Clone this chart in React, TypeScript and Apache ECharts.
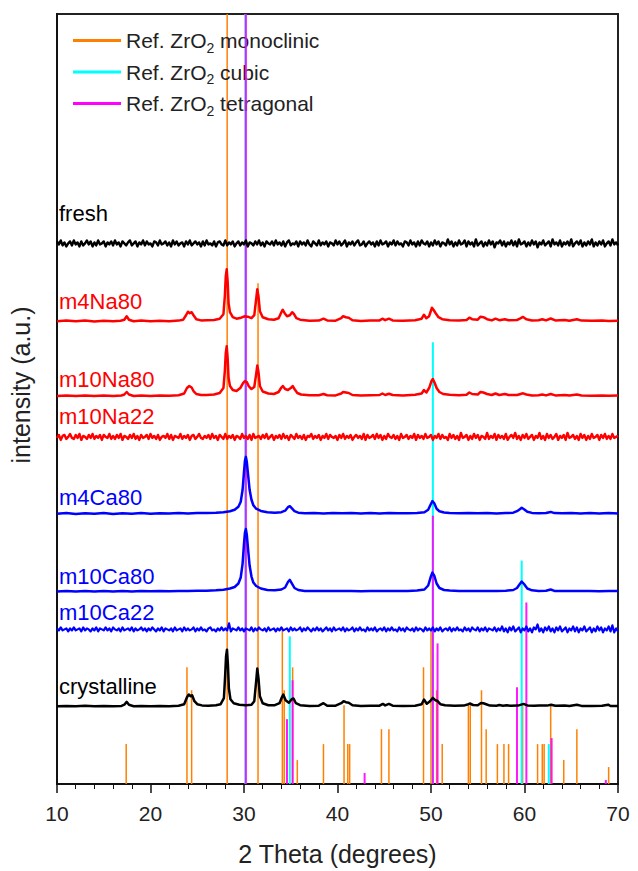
import React, { useEffect, useRef } from "react";
import * as echarts from "echarts";

// ---------- axis ----------
const X_MIN = 10;
const X_MAX = 70;
const X_STEP = 10;
const Y_TOP = 772; // intensity units of the stacked plot (a.u.)

// ---------- reference patterns: [2theta, relative height] ----------
const monoclinicRef: number[][] = [
  [17.4, 40], [23.9, 117], [24.4, 94], [28.2, 772], [31.5, 502], [34.1, 155], [34.3, 94],
  [35.2, 117], [35.7, 24], [38.5, 40], [40.7, 79], [41.1, 40], [41.3, 40], [44.7, 55],
  [45.5, 55], [49.2, 117], [50.0, 155], [50.6, 94], [51.2, 40], [54.0, 79], [54.2, 79],
  [55.4, 94], [55.9, 55], [57.1, 40], [57.8, 40], [58.3, 40], [59.8, 79], [61.4, 40],
  [61.9, 40], [62.1, 40], [62.8, 79], [64.2, 24], [65.6, 55], [69.0, 17],
];
const cubicRef: number[][] = [
  [30.15, 772], [34.9, 148], [50.2, 443], [59.7, 224], [62.6, 40],
];
const tetragonalRef: number[][] = [
  [30.2, 772], [34.6, 65], [35.2, 104], [42.9, 11], [50.2, 269], [50.7, 141],
  [59.2, 97], [60.2, 182], [62.9, 46], [68.7, 4],
];
const refNames = ["Ref. ZrO2 monoclinic", "Ref. ZrO2 cubic", "Ref. ZrO2 tetragonal"];

// ---------- measured patterns: [2theta, intensity above own baseline] ----------
const m4Na80: number[][] = [
  [10, 0], [11, 0.8], [12, 0], [13, 0.6], [14, -0.3], [15, 0.5], [16, 0], [16.8, 0.5], [17.2, 1.5], [17.45, 5],
  [17.7, 1.5], [18.2, 0], [19, 0.6], [20, 0], [21, 0.5], [22, 0], [23, 0.6], [23.5, 1.5], [23.8, 6], [24.0, 9.5],
  [24.2, 8], [24.4, 9], [24.6, 6], [24.9, 2], [25.4, 0.8], [26, 1], [26.8, 1.2], [27.4, 2.5], [27.8, 7], [27.95, 25],
  [28.05, 45], [28.15, 52], [28.25, 40], [28.35, 18], [28.5, 9], [28.8, 4], [29.2, 2.5], [29.7, 3.5], [30.1, 5], [30.4, 4.5],
  [30.8, 3], [31.1, 6], [31.3, 22], [31.42, 32], [31.55, 25], [31.7, 10], [32, 4], [32.6, 2], [33.2, 1.5], [33.7, 3],
  [34.0, 9], [34.15, 11.5], [34.35, 8], [34.6, 5], [34.9, 6], [35.15, 9], [35.35, 7], [35.6, 3], [36, 1.5], [37, 0.5],
  [38, 0.6], [38.5, 2.5], [38.9, 0.8], [39.8, 0.5], [40.4, 3], [40.6, 5], [40.9, 4], [41.2, 3.5], [41.6, 1], [42.5, 0.3],
  [43.5, 0.6], [44.5, 0.8], [44.8, 2.5], [45.1, 1], [45.5, 2.5], [45.9, 0.8], [47, 0.4], [48.3, 1], [49.0, 2.5], [49.25, 6.5],
  [49.5, 3], [49.8, 5], [50.1, 13.5], [50.3, 11], [50.5, 8], [50.8, 4], [51.2, 2], [52, 1], [53, 0.6], [53.8, 1.2],
  [54.1, 3.5], [54.4, 2], [55.0, 1.5], [55.3, 4.5], [55.6, 4], [56.0, 2], [56.5, 0.8], [56.9, 2.5], [57.3, 1], [57.9, 2],
  [58.3, 1], [59.2, 1.2], [59.5, 2.5], [59.85, 4.3], [60.2, 2], [60.8, 0.8], [61.5, 1], [61.9, 2], [62.3, 0.8], [62.8, 2.7],
  [63.3, 0.8], [64.3, 1.2], [64.8, 0.5], [65.6, 2], [66.1, 0.6], [67.2, 0.4], [68.3, 0.8], [69, 0.3], [70, 0.5],
];
const m10Na80: number[][] = [
  [10, 0], [11, 0.6], [12, 0], [13, 0.5], [14, 0], [15, 0.6], [16, 0], [16.9, 0.5], [17.2, 1.5], [17.45, 4],
  [17.7, 1.5], [18.2, 0], [19, 0.5], [20, 0], [21, 0.6], [22, 0.3], [23, 0.8], [23.6, 2.5], [23.9, 8], [24.15, 10],
  [24.4, 8.5], [24.6, 5], [24.9, 2], [25.4, 1], [26, 1], [26.8, 1.5], [27.4, 3], [27.8, 8], [27.95, 25], [28.05, 43],
  [28.15, 50], [28.25, 38], [28.35, 18], [28.5, 10], [28.8, 6], [29.2, 5], [29.6, 8], [29.9, 13], [30.1, 15], [30.3, 14],
  [30.5, 10], [30.8, 7], [31.1, 9], [31.3, 22], [31.42, 30.5], [31.55, 24], [31.7, 10], [32, 4.5], [32.6, 2.5], [33.2, 2],
  [33.7, 4], [34.0, 8.5], [34.15, 10], [34.4, 7], [34.7, 6], [35.0, 8], [35.2, 10], [35.4, 7], [35.7, 3], [36.1, 1.5],
  [37, 0.8], [38, 0.8], [38.5, 2], [38.9, 0.8], [39.8, 0.6], [40.4, 2.5], [40.6, 4], [40.9, 3.5], [41.2, 3], [41.6, 1],
  [42.5, 0.6], [43.5, 0.8], [44.5, 1], [44.8, 2.5], [45.1, 1], [45.5, 2.2], [45.9, 1], [47, 0.6], [48.3, 1.2], [49.0, 2.5],
  [49.25, 6], [49.5, 3.5], [49.8, 8], [50.05, 15], [50.2, 17], [50.4, 13], [50.6, 8], [50.9, 4], [51.3, 2], [52, 1.2],
  [53, 0.8], [53.8, 1.2], [54.1, 3.5], [54.4, 2], [55.0, 1.5], [55.3, 4], [55.6, 3.5], [56.0, 2], [56.5, 1], [56.9, 2.5],
  [57.3, 1], [57.9, 2], [58.3, 1], [59.2, 1], [59.5, 1.8], [59.85, 2.7], [60.2, 1.5], [60.8, 0.6], [61.5, 0.8], [61.9, 1.5],
  [62.3, 0.6], [62.8, 2], [63.3, 0.6], [64.3, 1], [64.8, 0.4], [65.6, 1.5], [66.1, 0.5], [67.2, 0.3], [68.3, 0.6], [69, 0.2],
  [70, 0.4],
];
const m4Ca80: number[][] = [
  [10, 0], [11, 0.6], [12, -0.3], [13, 0.5], [14, 0], [15, 0.6], [16, -0.2], [17, 0.5], [18, 0], [19, 0.6],
  [20, 0], [21, 0.5], [22, 0.2], [23, 0.6], [24, 0.3], [25, 0.8], [26, 0.6], [27, 1], [27.8, 1.5], [28.5, 2.5],
  [29, 4], [29.4, 7], [29.65, 12], [29.85, 24], [30.0, 42], [30.1, 53], [30.2, 57], [30.3, 52], [30.45, 38], [30.6, 24],
  [30.8, 14], [31.0, 8.5], [31.3, 5], [31.8, 2.8], [32.5, 1.5], [33.3, 1], [34, 1.5], [34.4, 3], [34.7, 6.5], [34.9, 7.5],
  [35.1, 5.5], [35.4, 2.5], [35.8, 1], [36.5, 0.5], [37.5, 0.6], [38.5, 0.3], [39.5, 0.6], [40.5, 0.4], [41.5, 0.6], [42.5, 0.2],
  [43.5, 0.6], [44.5, 0.3], [45.5, 0.6], [46.5, 0.4], [47.5, 0.5], [48.5, 0.8], [49.3, 1.5], [49.7, 4], [49.95, 9], [50.15, 12.7],
  [50.35, 10.5], [50.6, 5], [50.9, 2.5], [51.4, 1.2], [52, 0.8], [53, 0.5], [54, 0.6], [55, 0.4], [56, 0.6], [57, 0.3],
  [58, 0.6], [58.8, 1], [59.2, 2.5], [59.5, 4.5], [59.7, 6], [59.95, 4.5], [60.3, 2], [60.8, 0.8], [61.5, 0.5], [62.3, 0.8],
  [62.8, 1.8], [63.2, 0.6], [64, 0.4], [65, 0.6], [66, 0.3], [67, 0.6], [68, 0.3], [69, 0.6], [70, 0.3],
];
const m10Ca80: number[][] = [
  [10, 0], [11, 0.5], [12, 0], [13, 0.4], [14, 0], [15, 0.5], [16, 0], [17, 0.4], [18, 0], [19, 0.5],
  [20, 0.2], [21, 0.5], [22, 0.3], [23, 0.6], [24, 0.4], [25, 0.8], [26, 0.8], [27, 1.2], [27.8, 1.8], [28.5, 3],
  [29, 4.5], [29.4, 8], [29.65, 14], [29.85, 28], [30.0, 48], [30.1, 59], [30.2, 62.7], [30.3, 57], [30.45, 41], [30.6, 26],
  [30.8, 15], [31.0, 9], [31.3, 5.5], [31.8, 3], [32.5, 1.6], [33.3, 1.2], [34, 2], [34.4, 4], [34.7, 9.5], [34.9, 11.6],
  [35.1, 8.5], [35.4, 3.5], [35.8, 1.5], [36.5, 0.6], [37.5, 0.6], [38.5, 0.4], [39.5, 0.6], [40.5, 0.4], [41.5, 0.6], [42.5, 0.3],
  [43.5, 0.6], [44.5, 0.4], [45.5, 0.6], [46.5, 0.4], [47.5, 0.6], [48.5, 1], [49.3, 2], [49.7, 6], [49.95, 14], [50.15, 19],
  [50.35, 16], [50.6, 8], [50.9, 3.5], [51.4, 1.5], [52, 1], [53, 0.6], [54, 0.6], [55, 0.5], [56, 0.6], [57, 0.5],
  [58, 0.8], [58.8, 1.5], [59.2, 3.5], [59.5, 7.5], [59.7, 10], [59.95, 7.5], [60.3, 3], [60.8, 1.2], [61.5, 0.6], [62.3, 0.8],
  [62.8, 2], [63.2, 0.6], [64, 0.5], [65, 0.6], [66, 0.4], [67, 0.6], [68, 0.3], [69, 0.6], [70, 0.4],
];
const crystalline: number[][] = [
  [10, 0], [11, 0.3], [12, 0], [13, 0.4], [14, 0], [15, 0.3], [16, 0], [16.9, 0.3], [17.2, 1.5], [17.45, 4.3],
  [17.7, 1.5], [18.2, 0], [19, 0.3], [20, 0], [21, 0.3], [22, 0], [23, 0.5], [23.6, 2], [23.9, 9], [24.1, 11.7],
  [24.3, 10], [24.45, 11], [24.7, 5], [25, 2], [25.5, 0.8], [26.2, 0.5], [27, 1], [27.5, 2], [27.85, 8], [27.98, 30],
  [28.08, 50], [28.18, 56.7], [28.28, 42], [28.38, 18], [28.55, 7], [28.9, 3], [29.5, 1.5], [30.2, 1], [30.8, 1.5], [31.1, 5],
  [31.3, 25], [31.42, 37.7], [31.55, 28], [31.7, 10], [32, 3], [32.6, 1], [33.3, 1], [33.8, 3], [34.05, 9], [34.2, 11.7],
  [34.45, 6], [34.8, 3.5], [35.1, 7], [35.3, 7.7], [35.55, 3], [36, 1], [37, 0.3], [38, 0.5], [38.5, 3], [38.9, 0.5],
  [39.8, 0.5], [40.4, 3], [40.65, 5], [40.9, 4], [41.2, 3.5], [41.6, 1], [42.5, 0.3], [43.5, 0.4], [44.5, 0.5], [44.85, 2.3],
  [45.1, 0.8], [45.5, 2.3], [45.9, 0.5], [47, 0.3], [48.3, 0.5], [49.0, 2], [49.25, 6.7], [49.55, 2.5], [49.9, 5], [50.2, 8.3],
  [50.45, 6], [50.65, 5.5], [51, 2], [51.5, 1], [52.5, 0.4], [53.5, 0.6], [54.0, 2], [54.15, 2.7], [54.5, 1.2], [55.0, 1],
  [55.35, 3.3], [55.6, 3], [55.9, 2], [56.3, 0.6], [57, 0.5], [57.3, 1.2], [57.7, 0.5], [58.1, 1], [58.5, 0.4], [59.3, 0.6],
  [59.9, 2.3], [60.3, 0.8], [61, 0.4], [61.6, 0.8], [62, 0.8], [62.4, 0.6], [62.85, 1.5], [63.3, 0.5], [64.3, 0.8], [64.8, 0.3],
  [65.6, 1.5], [66.1, 0.3], [67.2, 0.2], [68.3, 0.4], [68.95, 1.5], [69.2, 0.2], [70, 0.3],
];

// noisy (amorphous) patterns, sampled every 0.2 degrees from 10 to 70
const NOISE_STEP = 0.2;
const freshNoise: number[] = [
  2, -1, 3, -2, 1, -3, 0, 2, -2, 3,
  -1, 1, -3, 2, -2, 0, 3, -1, 2, -3,
  1, -2, 3, -1, 0, 2, -3, 1, -1, 2,
  -2, 3, -1, 1, -3, 2, 0, -2, 1, 3,
  -2, 0, 2, -3, 1, -1, 3, -2, 2, -1,
  0, -3, 2, 1, -2, 3, -1, 0, 2, -2,
  1, -3, 3, -1, 2, -2, 0, 1, -3, 2,
  -1, 3, -2, 0, 2, -1, 1, -3, 2, -2,
  3, -1, 0, -2, 2, -3, 1, 2, -1, -2,
  3, -2, 1, -1, 2, -3, 0, 2, -2, 1,
  -1, 3, -3, 1, 0, -2, 2, -1, 3, -2,
  1, -3, 2, 0, -1, 2, -2, 3, -1, 1,
  -2, 2, -3, 1, 3, -2, 0, -1, 2, -3,
  2, -1, 1, -2, 3, -1, -3, 2, 0, -2,
  3, -2, 1, -1, 2, -3, 1, 0, -2, 3,
  -1, 2, -2, 0, 3, -3, 1, -1, 2, -2,
  1, 3, -2, -1, 2, -3, 0, 2, -1, 1,
  -3, 2, -2, 3, -1, 0, 2, -3, 1, -1,
  3, -2, 2, -1, 0, -3, 2, 1, -2, 3,
  -1, 1, -3, 2, -2, 3, 0, -1, 2, -3,
  1, -2, 3, -1, 2, -3, 1, 0, -2, 4,
  -1, 2, -3, 1, -2, 3, -1, 0, 3, -3,
  2, -1, 1, -3, 4, -2, 0, 2, -3, 1,
  -2, 3, -1, 2, -4, 1, 0, 3, -2, 2,
  -3, 1, -1, 3, -2, 2, -3, 4, -1, 0,
  2, -3, 1, -2, 3, -1, 2, -4, 1, -1,
  3, -2, 0, 2, -3, 4, -1, 1, -2, 3,
  -3, 1, -1, 2, -2, 4, -3, 0, 2, -1,
  3, -3, 1, -2, 2, -1, 4, -3, 1, -2,
  2, -1, 3, -3, 0, 2, -2, 4, -1, 1,
  -2,
];
const m10Na22Noise: number[] = [
  -1, 2, -3, 1, 2, -2, 0, 3, -1, -2,
  2, -1, 3, -3, 1, 0, -2, 2, -1, 3,
  -2, 1, -1, 2, -3, 2, 0, -1, 3, -2,
  1, -2, 2, -1, 3, -3, 1, 0, -2, 2,
  -1, 3, -2, 1, -3, 2, -1, 0, 2, -2,
  3, -1, 1, -2, 2, -3, 0, 1, -1, 3,
  -2, 2, -3, 1, 0, -1, 3, -2, 1, -1,
  2, -3, 1, 2, -2, 0, 3, -1, -2, 1,
  -1, 2, -2, 3, -1, 1, -3, 2, 0, -2,
  3, -2, 1, -1, 2, -3, 1, 0, -2, 3,
  -1, 1, -2, 2, -3, 3, -1, 0, 1, -2,
  2, -1, 3, -2, 0, 2, -3, 1, -1, 2,
  -2, 3, -1, 1, -3, 2, 0, -2, 3, -1,
  1, -2, 2, -3, 1, 0, 3, -2, 1, -1,
  2, -3, 1, -1, 3, -2, 2, 0, -1, 1,
  -3, 2, -1, 3, -2, 1, -1, 2, -3, 0,
  2, -1, 1, -2, 3, -3, 2, -1, 0, 2,
  -2, 3, -1, 2, -3, 1, -2, 3, 0, -1,
  2, -2, 1, -3, 3, -1, 0, 2, -2, 1,
  -1, 3, -3, 2, -1, 1, -2, 3, -1, 0,
  2, -3, 1, -1, 3, -2, 2, -1, 0, -3,
  3, -1, 2, -2, 1, -3, 4, -1, 0, 2,
  -3, 1, -2, 3, -1, 2, -3, 1, 0, -2,
  4, -2, 1, -1, 3, -3, 2, -1, 1, -2,
  3, -3, 0, 2, -1, 4, -2, 1, -3, 2,
  -1, 3, -2, 0, 2, -3, 1, -1, 4, -2,
  1, -3, 3, -1, 2, -2, 0, 3, -3, 1,
  -1, 2, -3, 4, -1, 0, 2, -2, 1, -3,
  3, -1, 2, -3, 1, -2, 3, -1, 0, 2,
  -3, 2, -1, 3, -2, 1, -2, 3, -1, 0,
  1,
];
const m10Ca22Noise: number[] = [
  1, -1, 2, -1, 0, 1, -2, 1, -1, 2,
  -1, 0, 1, -2, 2, -1, 1, 0, -2, 1,
  -1, 2, -2, 1, 0, -1, 2, -1, 1, -2,
  2, 0, -1, 1, -2, 2, -1, 0, 1, -1,
  2, -2, 1, -1, 0, 2, -1, 1, -2, 1,
  -1, 2, 0, -2, 1, -1, 2, -2, 1, 0,
  -1, 1, -2, 2, -1, 0, 1, -2, 2, -1,
  1, -1, 0, 2, -2, 1, -1, 2, -1, 0,
  -2, 1, 2, -1, 0, -2, 1, -1, 2, -1,
  1, -1, 6, -2, 1, 0, -1, 2, -1, 1,
  -2, 1, 0, -1, 2, -2, 1, -1, 2, 0,
  -1, 1, -2, 2, -1, 0, 1, -2, 1, -1,
  2, -1, 0, 1, -2, 2, -1, 1, -1, 0,
  2, -2, 1, -1, 2, 0, -2, 1, -1, 2,
  -1, 1, -2, 0, 2, -1, 1, -2, 2, -1,
  0, 1, -1, 2, -2, 1, -1, 0, 2, -2,
  1, -1, 2, -1, 0, -2, 2, -1, 1, -1,
  2, -2, 0, 1, -1, 2, -2, 1, -1, 2,
  -1, 0, -2, 2, -1, 1, -2, 2, 0, -1,
  1, -2, 2, -1, 1, 0, -2, 2, -1, 1,
  -1, 2, -2, 1, -1, 2, -2, 0, 1, -1,
  2, -2, 1, -1, 2, -1, 0, -2, 2, -1,
  1, -2, 2, 0, -1, 2, -2, 1, -1, 2,
  -2, 1, 0, -1, 2, -2, 1, -1, 3, -2,
  1, -3, 2, -1, 3, -2, 0, 2, -3, 1,
  -1, 3, -2, 1, -3, 2, 0, 5, -2, 1,
  -3, 2, -1, 3, -2, 1, -3, 2, -1, 3,
  -2, 0, 2, -3, 1, -1, 3, -2, 2, -3,
  1, -1, 3, -2, 0, 2, -3, 1, -2, 3,
  -1, 2, -3, 1, -1, 3, -2, 4, -3, 1,
  -2,
];

const sampleNames = ["fresh", "m4Na80", "m10Na80", "m10Na22", "m4Ca80", "m10Ca80", "m10Ca22", "crystalline"];

// ---------- styling / layout ----------
const FONT = "Arial, 'Liberation Sans', sans-serif";
const BLACK = "#000000";
const RED = "#ff0000";
const BLUE = "#0000ff";
const ORANGE = "#ff8000";
const CYAN = "#00ffff";
const MAGENTA = "#ff00ff";

const noiseToPairs = (vals: number[]) => vals.map((v, i) => [X_MIN + i * NOISE_STEP, v]);

const traces = [
  { name: sampleNames[0], data: noiseToPairs(freshNoise), offset: 542, color: BLACK, width: 2.4, labelY: 213 },
  { name: sampleNames[1], data: m4Na80, offset: 464, color: RED, width: 2.5, labelY: 301 },
  { name: sampleNames[2], data: m10Na80, offset: 389, color: RED, width: 2.5, labelY: 379 },
  { name: sampleNames[3], data: noiseToPairs(m10Na22Noise), offset: 348, color: RED, width: 2.4, labelY: 416 },
  { name: sampleNames[4], data: m4Ca80, offset: 271, color: BLUE, width: 2.5, labelY: 497 },
  { name: sampleNames[5], data: m10Ca80, offset: 193, color: BLUE, width: 2.5, labelY: 576 },
  { name: sampleNames[6], data: noiseToPairs(m10Ca22Noise), offset: 155, color: BLUE, width: 2.2, labelY: 612 },
  { name: sampleNames[7], data: crystalline, offset: 78, color: BLACK, width: 2.5, labelY: 686 },
];

const refs = [
  { name: refNames[0], data: monoclinicRef, color: ORANGE, width: 1.5, opacity: 1 },
  { name: refNames[1], data: cubicRef, color: CYAN, width: 2, opacity: 1 },
  { name: refNames[2], data: tetragonalRef, color: MAGENTA, width: 2, opacity: 0.9 },
];

function buildOption(): any {
  const refSeries = refs.map((r, i) => ({
    type: "custom",
    name: r.name,
    data: r.data,
    encode: { x: 0, y: 1 },
    itemStyle: { color: r.color },
    silent: true,
    z: 2 + i,
    renderItem: (_params: any, api: any) => {
      const b = api.coord([api.value(0), 0]);
      const t = api.coord([api.value(0), api.value(1)]);
      return {
        type: "line",
        shape: { x1: b[0], y1: b[1], x2: t[0], y2: t[1] },
        style: { stroke: r.color, lineWidth: r.width, opacity: r.opacity },
      };
    },
  }));

  const traceSeries = traces.map((t) => ({
    type: "line",
    name: t.name,
    data: t.data.map(([x, y]) => [x, y + t.offset]),
    symbol: "none",
    showSymbol: false,
    silent: true,
    z: 6,
    lineStyle: { color: t.color, width: t.width, join: "round" },
    itemStyle: { color: t.color },
  }));

  const labels = traces.map((t) => ({
    type: "text",
    x: 59,
    y: t.labelY,
    z: 10,
    style: {
      text: t.name,
      fill: t.color,
      font: `22px ${FONT}`,
      align: "left",
      verticalAlign: "middle",
    },
  }));

  return {
    animation: false,
    backgroundColor: "#ffffff",
    grid: {
      left: 57,
      right: 20,
      top: 14,
      bottom: 85,
      show: true,
      borderColor: "#222",
      borderWidth: 2,
      backgroundColor: "transparent",
    },
    legend: {
      show: true,
      orient: "vertical",
      left: 73,
      top: 30,
      padding: 0,
      itemGap: 7,
      itemWidth: 48,
      itemHeight: 3,
      selectedMode: false,
      data: refNames.map((n) => ({ name: n, icon: "rect" })),
      formatter: (name: string) => {
        const [a, b] = name.split("ZrO2");
        return `{n|${a}ZrO}{s|2}{n|${b}}`;
      },
      textStyle: {
        color: "#222",
        fontFamily: FONT,
        fontSize: 21,
        rich: {
          n: { fontSize: 21, fontFamily: FONT, color: "#222", lineHeight: 28 },
          s: { fontSize: 14, fontFamily: FONT, color: "#222", lineHeight: 12, verticalAlign: "bottom" },
        },
      },
    },
    xAxis: {
      type: "value",
      min: X_MIN,
      max: X_MAX,
      interval: X_STEP,
      name: "2 Theta (degrees)",
      nameLocation: "middle",
      nameGap: 57,
      nameTextStyle: { fontFamily: FONT, fontSize: 25, color: "#222" },
      axisLine: { show: true, onZero: false, lineStyle: { color: "#111", width: 2 } },
      axisTick: { show: true, inside: false, length: 9, lineStyle: { color: "#111", width: 1.5 } },
      minorTick: { show: true, splitNumber: 5, length: 5, lineStyle: { color: "#111", width: 1 } },
      axisLabel: { fontFamily: FONT, fontSize: 21, color: "#222", margin: 19 },
      splitLine: { show: false },
    },
    yAxis: {
      type: "value",
      min: 0,
      max: Y_TOP,
      name: "intensity (a.u.)",
      nameLocation: "middle",
      nameGap: 24,
      nameTextStyle: { fontFamily: FONT, fontSize: 25, color: "#222", padding: [0, 0, 0, 28] },
      axisLine: { show: true, lineStyle: { color: "#111", width: 2 } },
      axisTick: { show: false },
      axisLabel: { show: false },
      splitLine: { show: false },
    },
    series: [...refSeries, ...traceSeries],
    graphic: labels,
  };
}

export default function App() {
  const ref = useRef<HTMLDivElement>(null);
  useEffect(() => {
    if (!ref.current) return;
    const chart = echarts.init(ref.current, null, { renderer: "svg" });
    chart.setOption(buildOption());
    return () => chart.dispose();
  }, []);
  return (
    <div
      ref={ref}
      style={{ position: "fixed", left: 0, top: 0, width: 638, height: 871, background: "#fff" }}
    />
  );
}
